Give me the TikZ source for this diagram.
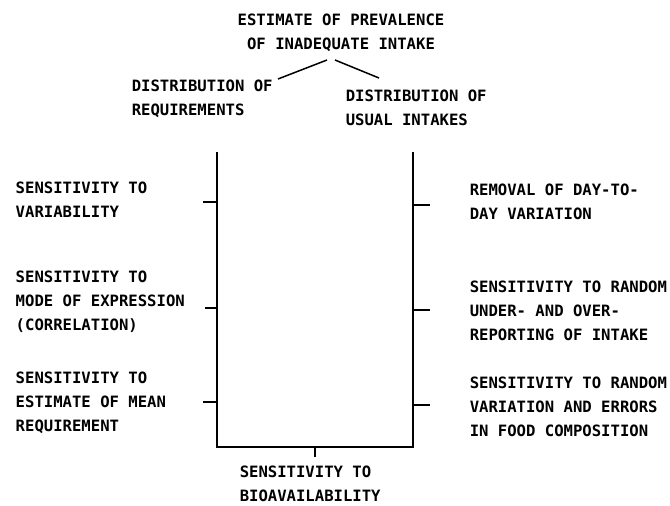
\documentclass[tikz,border=0pt]{standalone}
\usepackage{fontspec}
\setmonofont{DejaVu Sans Mono}
\usetikzlibrary{positioning}
\begin{document}
\begin{tikzpicture}[x=1pt,y=-1pt,line width=1.5pt]
  \tikzstyle{note}=[font=\ttfamily\bfseries\fontsize{15.6}{24}\selectfont,align=left,inner sep=0pt,anchor=west]
  \useasboundingbox (0,0) rectangle (670,506);

  \node [note,anchor=center,align=center] (P) at (341,33) {ESTIMATE OF PREVALENCE\\OF INADEQUATE INTAKE};
  \node [note] (R) at (131,99) {DISTRIBUTION OF\\REQUIREMENTS};
  \node [note] (U) at (345,108) {DISTRIBUTION OF\\USUAL INTAKES};

  \node [note] (L1) at (15,200) {SENSITIVITY TO\\VARIABILITY};
  \node [note] (L2) at (15,302) {SENSITIVITY TO\\MODE OF EXPRESSION\\(CORRELATION)};
  \node [note] (L3) at (15,403) {SENSITIVITY TO\\ESTIMATE OF MEAN\\REQUIREMENT};
  \node [note] (R1) at (469,202) {REMOVAL OF DAY-TO-\\DAY VARIATION};
  \node [note] (R2) at (469,311) {SENSITIVITY TO RANDOM\\UNDER- AND OVER-\\REPORTING OF INTAKE};
  \node [note] (R3) at (469,407) {SENSITIVITY TO RANDOM\\VARIATION AND ERRORS\\IN FOOD COMPOSITION};
  \node [note] (B) at (239,484) {SENSITIVITY TO\\BIOAVAILABILITY};

  \coordinate (ptl) at (327,60);
  \coordinate (ptr) at (335,60);
  \coordinate (rtop) at (278,79);
  \coordinate (utop) at (379,78);
  \draw (ptl) -- (rtop);
  \draw (ptr) -- (utop);

  \coordinate (req) at (217,152);
  \coordinate (reqend) at (217,447);
  \coordinate (use) at (413,152);
  \coordinate (useend) at (413,447);
  \draw (req) -- (reqend) -- (useend) -- (use);

  \coordinate (t1) at (217,202);
  \coordinate (t2) at (217,308);
  \coordinate (t3) at (217,402);
  \coordinate (s1) at (413,205);
  \coordinate (s2) at (413,310);
  \coordinate (s3) at (413,405);
  \coordinate (bio) at (315,447);
  \draw (t1) -- ++(-14,0);
  \draw (t2) -- ++(-12,0);
  \draw (t3) -- ++(-14,0);
  \draw (s1) -- ++(17,0);
  \draw (s2) -- ++(17,0);
  \draw (s3) -- ++(17,0);
  \draw (bio) -- ++(0,10);
\end{tikzpicture}
\end{document}
